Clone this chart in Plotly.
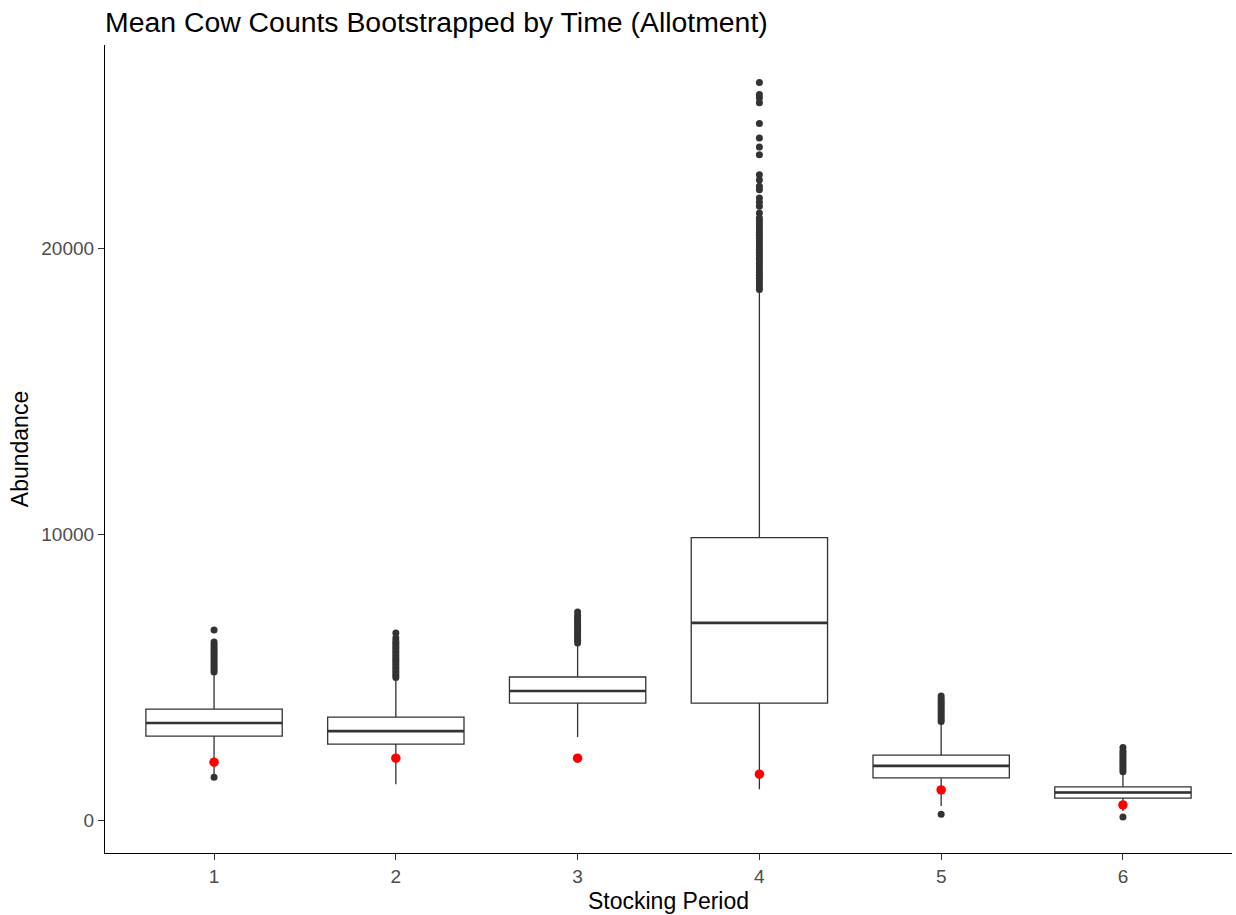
import plotly.graph_objects as go

periods = [1, 2, 3, 4, 5, 6]
q1 = [2942, 2662, 4098, 4098, 1482, 771]
median = [3398, 3117, 4518, 6900, 1902, 970]
q3 = [3888, 3608, 5009, 9877, 2277, 1166]
lower_whisker = [1560, 1261, 2907, 1086, 501, 326]
upper_whisker = [5149, 4974, 6165, 18494, 3433, 1671]
observed = [2032, 2172, 2172, 1611, 1061, 536]

outliers = {
    1: [5180, 5260, 5340, 5420, 5500, 5580, 5660, 5740, 5820, 5900, 5980, 6060, 6140, 6230, 6655, 1506],
    2: [4990, 5070, 5150, 5230, 5310, 5390, 5470, 5550, 5630, 5710, 5790, 5870, 5950, 6030, 6110, 6190,
        6270, 6370, 6550],
    3: [6200, 6280, 6360, 6440, 6520, 6600, 6680, 6760, 6840, 6920, 7000, 7080, 7160, 7280],
    4: [18550, 18650, 18750, 18850, 18950, 19050, 19150, 19250, 19350, 19450, 19550, 19650, 19750, 19850,
        19950, 20050, 20150, 20250, 20350, 20450, 20550, 20650, 20750, 20850, 20950, 21050, 21230, 21460,
        21600, 21752, 22042, 22160, 22380, 22568, 23268, 23538, 23853, 24354, 25080, 25250, 25370, 25790],
    5: [3450, 3530, 3610, 3690, 3770, 3850, 3930, 4010, 4090, 4170, 4250, 4340, 210],
    6: [1700, 1780, 1860, 1940, 2020, 2100, 2180, 2260, 2340, 2420, 2546, 116],
}

title_text = "Mean Cow Counts Bootstrapped by Time (Allotment)"
x_title = "Stocking Period"
y_title = "Abundance"
y_ticks = [0, 10000, 20000]

BOX_W = 0.75
DARK = "#333333"
FONT = "Liberation Sans, Arial, sans-serif"

fig = go.Figure()

fig.add_trace(go.Box(
    x=periods, q1=q1, median=median, q3=q3,
    lowerfence=lower_whisker, upperfence=upper_whisker,
    boxpoints=False, width=BOX_W, whiskerwidth=0,
    fillcolor="white", line=dict(color=DARK, width=1.3),
    showlegend=False, hoverinfo="skip",
))

# thicker median lines like ggplot
for p, m in zip(periods, median):
    fig.add_trace(go.Scatter(
        x=[p - BOX_W / 2, p + BOX_W / 2], y=[m, m], mode="lines",
        line=dict(color=DARK, width=2.6), showlegend=False, hoverinfo="skip",
    ))

ox, oy = [], []
for p in periods:
    for v in outliers[p]:
        ox.append(p)
        oy.append(v)
fig.add_trace(go.Scatter(
    x=ox, y=oy, mode="markers",
    marker=dict(color=DARK, size=7, line=dict(width=0)),
    showlegend=False,
))

fig.add_trace(go.Scatter(
    x=periods, y=observed, mode="markers",
    marker=dict(color="red", size=9.5, line=dict(width=0)),
    showlegend=False,
))

fig.update_layout(
    width=1236, height=915,
    paper_bgcolor="white", plot_bgcolor="white",
    margin=dict(l=105, r=4, t=45, b=62),
    font=dict(family=FONT, color="black"),
    title=dict(text=title_text, x=0, xref="paper", xanchor="left",
               y=1 - 22 / 915, yref="container", yanchor="middle",
               font=dict(size=28.4, color="black", family=FONT)),
)

fig.update_xaxes(
    range=[0.4, 6.6], tickvals=periods, ticktext=[str(p) for p in periods],
    showline=True, linecolor="black", linewidth=1.2, mirror=False,
    ticks="outside", ticklen=6, tickcolor=DARK, showgrid=False, zeroline=False,
    tickfont=dict(size=19, color="#4D4D4D", family=FONT),
    title=dict(text=x_title, font=dict(size=23, color="black", family=FONT), standoff=6),
)
fig.update_yaxes(
    range=[-1144, 27100], tickvals=y_ticks, ticktext=[str(t) for t in y_ticks],
    showline=True, linecolor="black", linewidth=1.2,
    ticks="outside", ticklen=6, tickcolor=DARK, showgrid=False, zeroline=False,
    tickfont=dict(size=19, color="#4D4D4D", family=FONT),
    title=dict(text=y_title, font=dict(size=23, color="black", family=FONT), standoff=6),
)

fig.write_html("out.html", config={"displayModeBar": False},
               post_script="document.body.style.margin='0px';")
